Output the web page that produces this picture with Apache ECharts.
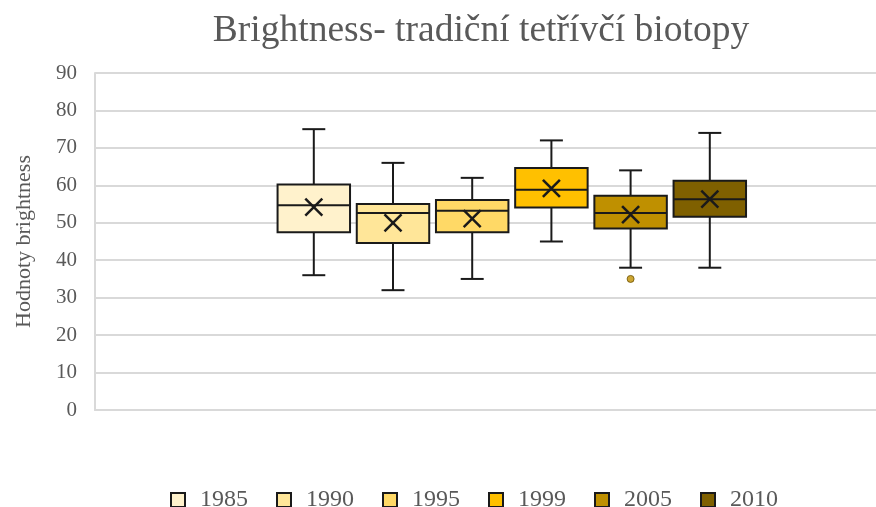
<!DOCTYPE html>
<html>
<head>
<meta charset="utf-8">
<script src="https://cdn.jsdelivr.net/npm/echarts@6/dist/echarts.min.js"></script>
<style>
html,body{margin:0;padding:0;background:#fff;}
#chart{width:876px;height:507px;}
</style>
</head>
<body>
<div id="chart"></div>
<script>
// ---- data ----
const years = ['1985', '1990', '1995', '1999', '2005', '2010'];
const whiskerLow = [36, 32, 35, 45, 38, 38];
const quartile1 = [47.5, 44.6, 47.5, 54.1, 48.5, 51.6];
const medians = [54.7, 52.6, 53.2, 58.8, 52.6, 56.3];
const quartile3 = [60.2, 55.0, 56.1, 64.6, 57.2, 61.2];
const whiskerHigh = [75, 66, 62, 72, 64, 74];
const means = [54.2, 50.0, 51.1, 59.2, 52.2, 56.3];
const outlierYears = ['2005'];
const outlierValues = [35];
const yTicks = [0, 10, 20, 30, 40, 50, 60, 70, 80, 90];

const colors = ['#FFF2CC', '#FFE699', '#FFD966', '#FFC000', '#BF9000', '#7F6000'];
const FONT = '"Liberation Serif", "DejaVu Serif", serif';
const TXT = '#595959';
const GRID = '#d9d9d9';
const INK = '#1a1a1a';

function renderBox(params, api) {
  const c = api.value(0);
  const lo = api.coord([c, api.value(1)]);
  const q1 = api.coord([c, api.value(2)]);
  const md = api.coord([c, api.value(3)]);
  const q3 = api.coord([c, api.value(4)]);
  const hi = api.coord([c, api.value(5)]);
  const mn = api.coord([c, api.value(6)]);
  const band = api.size([1, 0])[0];
  const hw = band * 0.915 / 2;
  const cw = band * 0.145;
  const x = lo[0];
  const line = { stroke: INK, lineWidth: 2 };
  const m = 8.5;
  return {
    type: 'group',
    children: [
      { type: 'line', shape: { x1: x, y1: hi[1], x2: x, y2: q3[1] }, style: line },
      { type: 'line', shape: { x1: x, y1: q1[1], x2: x, y2: lo[1] }, style: line },
      { type: 'line', shape: { x1: x - cw, y1: hi[1], x2: x + cw, y2: hi[1] }, style: line },
      { type: 'line', shape: { x1: x - cw, y1: lo[1], x2: x + cw, y2: lo[1] }, style: line },
      { type: 'rect', shape: { x: x - hw, y: q3[1], width: hw * 2, height: q1[1] - q3[1] },
        style: { fill: api.visual('color'), stroke: INK, lineWidth: 2 } },
      { type: 'line', shape: { x1: x - hw, y1: md[1], x2: x + hw, y2: md[1] }, style: line },
      { type: 'line', shape: { x1: x - m, y1: mn[1] - m, x2: x + m, y2: mn[1] + m }, style: { stroke: INK, lineWidth: 2.5 } },
      { type: 'line', shape: { x1: x - m, y1: mn[1] + m, x2: x + m, y2: mn[1] - m }, style: { stroke: INK, lineWidth: 2.5 } }
    ]
  };
}

const series = years.map((y, i) => ({
  name: y,
  type: 'custom',
  xAxisIndex: 1,
  yAxisIndex: 1,
  itemStyle: { color: colors[i] },
  renderItem: renderBox,
  encode: { x: 0, y: [1, 2, 3, 4, 5, 6] },
  data: [[y, whiskerLow[i], quartile1[i], medians[i], quartile3[i], whiskerHigh[i], means[i]]],
  silent: true
}));
series.push({
  name: 'outliers',
  type: 'scatter',
  xAxisIndex: 1,
  yAxisIndex: 1,
  symbol: 'circle',
  symbolSize: 7,
  itemStyle: { color: '#C09000', borderColor: '#6b5000', borderWidth: 1 },
  data: outlierYears.map((y, i) => [y, outlierValues[i]]),
  silent: true
});

const chart = echarts.init(document.getElementById('chart'), null, { renderer: 'canvas' });
chart.setOption({
  animation: false,
  backgroundColor: '#fff',
  title: {
    text: 'Brightness- tradiční tetřívčí biotopy',
    left: 476,
    textAlign: 'center',
    top: 7,
    textStyle: { fontFamily: FONT, fontSize: 37.5, fontWeight: 'normal', color: TXT }
  },
  legend: {
    data: years,
    left: 165,
    top: 483,
    icon: 'rect',
    itemWidth: 14,
    itemHeight: 14,
    itemGap: 28,
    itemStyle: { borderColor: INK, borderWidth: 2 },
    textStyle: { fontFamily: FONT, fontSize: 24, color: TXT, padding: [0, 0, 0, 10] }
  },
  grid: [
    { left: 95, right: 0, top: 73, bottom: 97 },
    { left: 274.2, width: 475.2, top: 73, bottom: 97 }
  ],
  xAxis: [
    { type: 'category', gridIndex: 0, data: [''], axisLine: { show: true, lineStyle: { color: GRID, width: 2 } },
      axisTick: { show: false }, axisLabel: { show: false } },
    { type: 'category', gridIndex: 1, data: years, show: false }
  ],
  yAxis: [
    { type: 'value', gridIndex: 0, min: yTicks[0], max: yTicks[yTicks.length - 1], interval: 10,
      name: 'Hodnoty brightness', nameLocation: 'middle', nameGap: 60, nameRotate: 90,
      nameTextStyle: { fontFamily: FONT, fontSize: 22, color: TXT },
      axisLine: { show: true, lineStyle: { color: GRID, width: 2 } },
      axisTick: { show: false },
      splitLine: { show: true, lineStyle: { color: GRID, width: 2 } },
      axisLabel: { fontFamily: FONT, fontSize: 21, color: TXT, margin: 18 } },
    { type: 'value', gridIndex: 1, min: 0, max: 90, show: false }
  ],
  series: series
});
</script>
</body>
</html>
